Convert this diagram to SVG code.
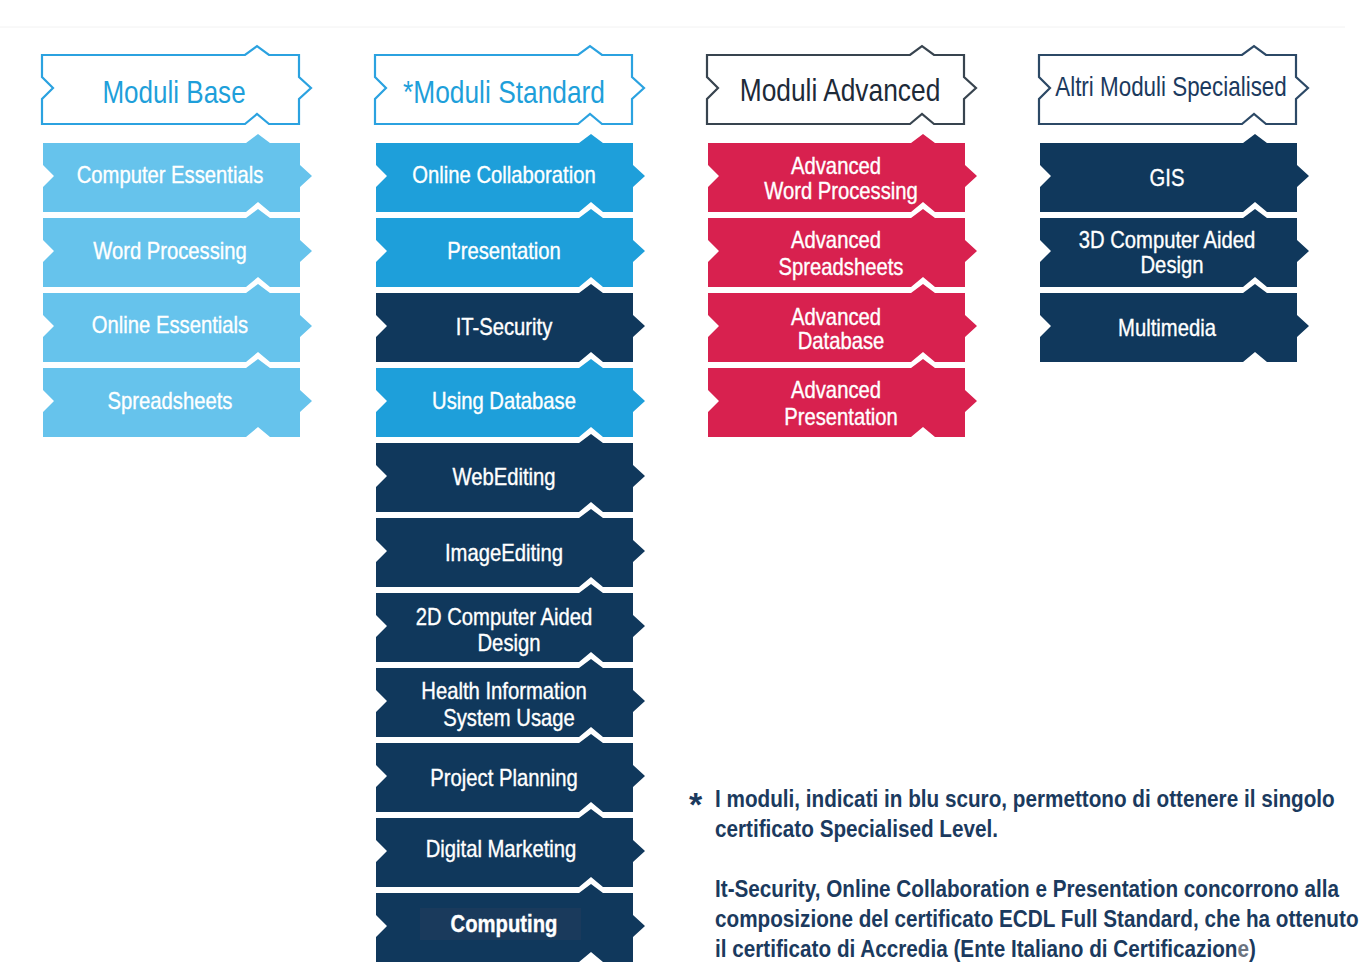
<svg xmlns="http://www.w3.org/2000/svg" xmlns:xlink="http://www.w3.org/1999/xlink" width="1363" height="972" viewBox="0 0 1363 972">
<style>
.lb{fill:#66c3ec}
.mb{fill:#1e9fda}
.dk{fill:#10385c}
.rd{fill:#d8214f}
.hd{fill:#ffffff;stroke-width:2.2}
.h1{stroke:#2ba2e0}
.h3{stroke:#38444f}
.h4{stroke:#2c4966}
.tt{font-family:"Liberation Sans",Arial,sans-serif;font-size:23px;fill:#ffffff;stroke:#ffffff;stroke-width:0.35;text-anchor:middle}
.ht{font-family:"Liberation Sans",Arial,sans-serif;font-size:31px;text-anchor:middle}
.fn{font-family:"Liberation Sans",Arial,sans-serif;font-size:23px;font-weight:bold;fill:#1b3a5e}
</style>
<defs>
<path id="tile" d="M0,0 H203 L215,-9 L227,0 H257 V22 L269,33 L257,44 V69 H227 L215,59 L203,69 H0 V44 L11,33 L0,22 Z"/>
</defs>
<line x1="0" y1="27" x2="1345" y2="27" stroke="#f2f2f2" stroke-width="1"/>

<g id="col1">
<g id="h-base"><use xlink:href="#tile" x="42" y="55" class="hd h1"/><text transform="translate(174,0) scale(0.84,1)" y="103" class="ht" fill="#1e9fda">Moduli Base</text></g>
<g id="n-computer-essentials"><use xlink:href="#tile" x="43" y="143" class="lb"/><text transform="translate(170,0) scale(0.88,1)" y="183" class="tt">Computer Essentials</text></g>
<g id="n-word-processing"><use xlink:href="#tile" x="43" y="218" class="lb"/><text transform="translate(170,0) scale(0.88,1)" y="259" class="tt">Word Processing</text></g>
<g id="n-online-essentials"><use xlink:href="#tile" x="43" y="293" class="lb"/><text transform="translate(170,0) scale(0.88,1)" y="333" class="tt">Online Essentials</text></g>
<g id="n-spreadsheets"><use xlink:href="#tile" x="43" y="368" class="lb"/><text transform="translate(170,0) scale(0.88,1)" y="409" class="tt">Spreadsheets</text></g>
</g>

<g id="col2">
<g id="h-standard"><use xlink:href="#tile" x="375" y="55" class="hd h1"/><text transform="translate(504,0) scale(0.85,1)" y="103" class="ht" fill="#1e9fda">*Moduli Standard</text></g>
<g id="n-online-collaboration"><use xlink:href="#tile" x="376" y="143" class="mb"/><text transform="translate(504,0) scale(0.88,1)" y="183" class="tt">Online Collaboration</text></g>
<g id="n-presentation"><use xlink:href="#tile" x="376" y="218" class="mb"/><text transform="translate(504,0) scale(0.88,1)" y="259" class="tt">Presentation</text></g>
<g id="n-it-security"><use xlink:href="#tile" x="376" y="293" class="dk"/><text transform="translate(504,0) scale(0.88,1)" y="335" class="tt">IT-Security</text></g>
<g id="n-using-database"><use xlink:href="#tile" x="376" y="368" class="mb"/><text transform="translate(504,0) scale(0.88,1)" y="409" class="tt">Using Database</text></g>
<g id="n-webediting"><use xlink:href="#tile" x="376" y="443" class="dk"/><text transform="translate(504,0) scale(0.88,1)" y="485" class="tt">WebEditing</text></g>
<g id="n-imageediting"><use xlink:href="#tile" x="376" y="518" class="dk"/><text transform="translate(504,0) scale(0.88,1)" y="561" class="tt">ImageEditing</text></g>
<g id="n-2dcad"><use xlink:href="#tile" x="376" y="593" class="dk"/><text transform="translate(504,0) scale(0.88,1)" y="625" class="tt">2D Computer Aided</text><text transform="translate(509,0) scale(0.88,1)" y="651" class="tt">Design</text></g>
<g id="n-health"><use xlink:href="#tile" x="376" y="668" class="dk"/><text transform="translate(504,0) scale(0.88,1)" y="699" class="tt">Health Information</text><text transform="translate(509,0) scale(0.88,1)" y="726" class="tt">System Usage</text></g>
<g id="n-project-planning"><use xlink:href="#tile" x="376" y="743" class="dk"/><text transform="translate(504,0) scale(0.88,1)" y="786" class="tt">Project Planning</text></g>
<g id="n-digital-marketing"><use xlink:href="#tile" x="376" y="818" class="dk"/><text transform="translate(501,0) scale(0.88,1)" y="857" class="tt">Digital Marketing</text></g>
<g id="n-computing"><use xlink:href="#tile" x="376" y="893" class="dk"/><rect x="420" y="908" width="161" height="32" fill="#1a3a5c"/><text transform="translate(504,0) scale(0.88,1)" y="932" class="tt" font-weight="bold">Computing</text></g>
</g>

<g id="col3">
<g id="h-advanced"><use xlink:href="#tile" x="707" y="55" class="hd h3"/><text transform="translate(840,0) scale(0.85,1)" y="101" class="ht" fill="#1d2a38">Moduli Advanced</text></g>
<g id="n-adv-word"><use xlink:href="#tile" x="708" y="143" class="rd"/><text transform="translate(836,0) scale(0.88,1)" y="174" class="tt">Advanced</text><text transform="translate(841,0) scale(0.88,1)" y="199" class="tt">Word Processing</text></g>
<g id="n-adv-spreadsheets"><use xlink:href="#tile" x="708" y="218" class="rd"/><text transform="translate(836,0) scale(0.88,1)" y="248" class="tt">Advanced</text><text transform="translate(841,0) scale(0.88,1)" y="275" class="tt">Spreadsheets</text></g>
<g id="n-adv-database"><use xlink:href="#tile" x="708" y="293" class="rd"/><text transform="translate(836,0) scale(0.88,1)" y="325" class="tt">Advanced</text><text transform="translate(841,0) scale(0.88,1)" y="349" class="tt">Database</text></g>
<g id="n-adv-presentation"><use xlink:href="#tile" x="708" y="368" class="rd"/><text transform="translate(836,0) scale(0.88,1)" y="398" class="tt">Advanced</text><text transform="translate(841,0) scale(0.88,1)" y="425" class="tt">Presentation</text></g>
</g>

<g id="col4">
<g id="h-specialised"><use xlink:href="#tile" x="1039" y="55" class="hd h4"/><text transform="translate(1171,0) scale(0.83,1)" y="96" class="ht" fill="#1b3a5e" style="font-size:27px">Altri Moduli Specialised</text></g>
<g id="n-gis"><use xlink:href="#tile" x="1040" y="143" class="dk"/><text transform="translate(1167,0) scale(0.88,1)" y="186" class="tt">GIS</text></g>
<g id="n-3dcad"><use xlink:href="#tile" x="1040" y="218" class="dk"/><text transform="translate(1167,0) scale(0.88,1)" y="248" class="tt">3D Computer Aided</text><text transform="translate(1172,0) scale(0.88,1)" y="273" class="tt">Design</text></g>
<g id="n-multimedia"><use xlink:href="#tile" x="1040" y="293" class="dk"/><text transform="translate(1167,0) scale(0.88,1)" y="336" class="tt">Multimedia</text></g>
</g>

<g id="footnote">
<text x="689" y="816" class="fn" style="font-size:34px">*</text>
<text class="fn" transform="translate(715,0) scale(0.9,1)">
<tspan x="0" y="807">I moduli, indicati in blu scuro, permettono di ottenere il singolo</tspan>
<tspan x="0" y="837">certificato Specialised Level.</tspan>
<tspan x="0" y="897">It-Security, Online Collaboration e Presentation concorrono alla</tspan>
<tspan x="0" y="927">composizione del certificato ECDL Full Standard, che ha ottenuto</tspan>
<tspan x="0" y="957">il certificato di Accredia (Ente Italiano di Certificazion<tspan fill="#6b7380">e</tspan>)</tspan>
</text>
</g>
</svg>
